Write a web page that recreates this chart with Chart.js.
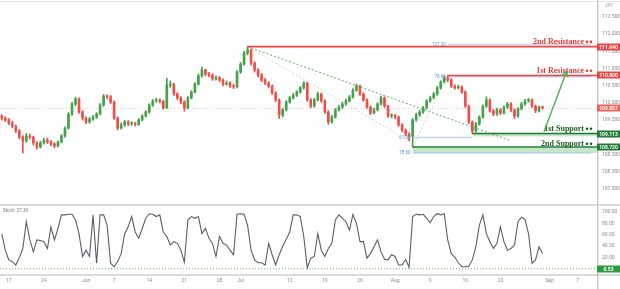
<!DOCTYPE html>
<html>
<head>
<meta charset="utf-8">
<script src="https://cdn.jsdelivr.net/npm/chart.js@4.4.0/dist/chart.umd.min.js"></script>
<style>
  html, body { margin: 0; padding: 0; background: #fff; }
  #wrap { position: relative; width: 620px; height: 289px; overflow: hidden; }
  #price-box { position: absolute; left: 0; top: 0; width: 620px; height: 204px; }
  #stoch-box { position: absolute; left: 0; top: 204px; width: 620px; height: 85px; }
</style>
</head>
<body>
<div id="wrap">
  <div id="price-box"><canvas id="price-canvas"></canvas></div>
  <div id="stoch-box"><canvas id="stoch-canvas"></canvas></div>
</div>
<script>
// USD/JPY, two candles per trading day, 14 May - 31 Aug 2021
const firstDay = '2021-05-14';
const lastDay = '2021-09-09';

const tickDays = ['2021-05-17','2021-05-24','2021-06-01','2021-06-07','2021-06-14','2021-06-21','2021-06-28','2021-07-01',
                  '2021-07-12','2021-07-19','2021-07-26','2021-08-02','2021-08-09','2021-08-16','2021-08-23','2021-09-01','2021-09-07'];
const tickText = ['17','24','Jun','7','14','21','28','Jul','12','19','26','Aug','9','16','23','Sep','7'];

const opens = [
  109.62,109.56,109.51,109.42,109.33,109.19,109.01,108.90,109.04,109.01,
  108.84,108.72,108.84,108.92,108.87,108.81,108.75,108.87,109.04,109.27,
  109.68,109.97,110.12,109.74,109.56,109.45,109.53,109.59,109.68,109.94,
  110.20,110.18,110.03,109.56,109.27,109.36,109.45,109.39,109.40,109.38,
  109.51,109.62,109.74,109.94,110.06,110.09,110.05,109.86,110.52,110.55,
  110.26,110.15,110.03,109.86,110.15,110.32,110.55,110.79,110.96,110.84,
  110.81,110.70,110.73,110.67,110.55,110.58,110.49,110.47,110.90,111.13,
  111.45,111.54,111.16,110.96,110.81,110.67,110.58,110.49,110.29,110.09,
  109.65,109.80,110.03,110.15,110.23,110.32,110.44,110.58,110.09,109.91,
  110.09,110.26,110.06,109.74,109.45,109.59,109.80,109.88,109.97,110.06,
  110.17,110.38,110.49,110.26,110.09,109.88,109.71,109.80,109.97,110.15,
  109.91,109.62,109.63,109.59,109.36,109.21,109.10,109.04,109.51,109.65,
  109.74,109.86,110.06,110.15,110.26,110.44,110.61,110.73,110.67,110.49,
  110.44,110.47,110.32,109.91,109.45,109.19,109.39,109.59,109.91,110.09,
  109.77,109.68,109.80,109.71,109.88,109.97,109.80,109.62,109.83,109.97,
  110.06,110.09,109.91,109.77,109.88
];
const highs = [
  109.66,109.60,109.55,109.47,109.36,109.23,109.05,109.12,109.10,109.04,
  108.88,108.89,108.97,108.98,108.91,108.85,108.90,109.08,109.31,109.72,
  110.02,110.17,110.15,109.78,109.60,109.58,109.64,109.72,109.98,110.25,
  110.24,110.22,110.06,109.60,109.42,109.50,109.49,109.46,109.44,109.55,
  109.66,109.78,109.98,110.10,110.14,110.12,110.08,110.72,110.64,110.58,
  110.30,110.19,110.07,110.19,110.36,110.59,110.84,111.05,110.99,110.89,
  110.85,110.79,110.77,110.70,110.64,110.62,110.55,110.94,111.18,111.50,
  111.64,111.57,111.20,111.00,110.86,110.72,110.62,110.53,110.33,110.12,
  109.85,110.07,110.20,110.28,110.36,110.48,110.62,110.60,110.13,110.14,
  110.32,110.29,110.09,109.78,109.64,109.84,109.93,110.02,110.11,110.22,
  110.42,110.55,110.52,110.30,110.12,109.92,109.85,110.01,110.20,110.18,
  109.94,109.69,109.67,109.62,109.40,109.25,109.14,109.55,109.70,109.79,
  109.90,110.10,110.20,110.31,110.48,110.65,110.78,110.80,110.71,110.53,
  110.52,110.50,110.35,109.94,109.48,109.44,109.63,109.95,110.18,110.12,
  109.81,109.85,109.84,109.92,110.02,110.01,109.83,109.87,110.02,110.11,
  110.14,110.12,109.94,109.92,109.91
];
const lows = [
  109.50,109.46,109.37,109.28,109.14,108.96,108.55,108.86,108.95,108.78,
  108.66,108.69,108.80,108.82,108.76,108.70,108.72,108.84,109.01,109.24,
  109.64,109.92,109.70,109.50,109.40,109.41,109.49,109.55,109.65,109.90,
  110.12,109.98,109.52,109.22,109.24,109.32,109.34,109.35,109.33,109.35,
  109.48,109.59,109.70,109.90,110.02,110.00,109.82,109.84,110.45,110.22,
  110.10,109.98,109.76,109.83,110.12,110.29,110.52,110.75,110.79,110.76,
  110.66,110.66,110.62,110.50,110.52,110.45,110.42,110.44,110.86,111.10,
  111.40,111.10,110.90,110.76,110.62,110.53,110.44,110.25,110.04,109.55,
  109.60,109.77,109.99,110.11,110.19,110.28,110.40,110.05,109.86,109.88,
  110.06,110.02,109.70,109.38,109.41,109.56,109.76,109.84,109.93,110.03,
  110.14,110.34,110.22,110.05,109.84,109.66,109.68,109.77,109.94,109.87,
  109.58,109.57,109.54,109.32,109.16,109.05,108.90,108.72,109.47,109.61,
  109.70,109.82,110.02,110.12,110.22,110.40,110.58,110.62,110.45,110.40,
  110.41,110.28,109.87,109.40,109.11,109.15,109.35,109.56,109.87,109.73,
  109.63,109.64,109.66,109.68,109.84,109.75,109.55,109.59,109.80,109.93,
  110.02,109.87,109.72,109.74,109.82
];
const closes = [
  109.56,109.51,109.42,109.33,109.19,109.01,108.90,109.04,109.01,108.84,
  108.72,108.84,108.92,108.87,108.81,108.75,108.87,109.04,109.27,109.68,
  109.97,110.12,109.74,109.56,109.45,109.53,109.59,109.68,109.94,110.20,
  110.18,110.03,109.56,109.27,109.36,109.45,109.39,109.40,109.38,109.51,
  109.62,109.74,109.94,110.06,110.09,110.05,109.86,110.52,110.55,110.26,
  110.15,110.03,109.86,110.15,110.32,110.55,110.79,110.96,110.84,110.81,
  110.70,110.73,110.67,110.55,110.58,110.49,110.47,110.90,111.13,111.45,
  111.54,111.16,110.96,110.81,110.67,110.58,110.49,110.29,110.09,109.65,
  109.80,110.03,110.15,110.23,110.32,110.44,110.58,110.09,109.91,110.09,
  110.26,110.06,109.74,109.45,109.59,109.80,109.88,109.97,110.06,110.17,
  110.38,110.49,110.26,110.09,109.88,109.71,109.80,109.97,110.15,109.91,
  109.62,109.63,109.59,109.36,109.21,109.10,109.04,109.51,109.65,109.74,
  109.86,110.06,110.15,110.26,110.44,110.61,110.73,110.67,110.49,110.44,
  110.47,110.32,109.91,109.45,109.19,109.39,109.59,109.91,110.09,109.77,
  109.68,109.80,109.71,109.88,109.97,109.80,109.62,109.83,109.97,110.06,
  110.09,109.91,109.77,109.88,109.86
];

// stochastic %K
const stoch = [
  62,33,16,13,7,20,36,83,51,30,
  51,50,48,36,74,51,71,95,95,96,
  96,86,62,22,33,22,95,10,95,95,
  77,10,4,13,27,62,74,92,65,54,
  71,89,97,96,92,95,65,57,42,48,
  45,33,12,86,92,89,92,62,71,54,
  45,22,57,45,42,33,25,96,97,96,
  77,33,16,11,11,7,45,25,7,25,
  40,52,65,95,95,92,57,2,19,22,
  62,33,22,36,45,86,95,89,83,68,
  96,80,48,48,19,27,39,51,30,17,
  16,25,22,7,7,17,3,92,96,95,
  96,89,81,92,97,95,97,51,27,21,
  11,4,4,5,16,39,77,95,62,48,
  36,45,74,48,33,36,42,83,91,87,
  62,10,16,39,27.39
];
const stochLevel = 0.53;

// key levels
const levelNames = ['2nd Resistance', '1st Resistance', '1st Support', '2nd Support'];
const levelPrices = [111.64, 110.80, 109.113, 108.72];
const levelStart = [70, 127, 134, 117];      // candle the level is drawn from
const levelTags = ['111.640', '110.800', '109.113', '108.720'];
const supportBands = [[109.03, 109.10], [108.55, 108.70]];
const lastPrice = 109.857;

// fibonacci drawing
const fibLabels = ['127.20', '78.60', '61.80', '78.60'];
const fibPrices = [111.70, 110.76, 109.00, 108.55];
const fibStart = [127, 127, 117, 117];
const fibEnd = [168, 168, 134, 168];

// [candle, price] pairs
const trendLine = [[70, 111.64], [145, 108.90]];
const fibSwing = [[70, 111.64], [116, 108.90]];
const fibLeg = [[117, 108.72], [127, 110.80]];
const arrow = [[154.4, 109.17], [160.9, 110.93]];

const priceTicks = [107.5, 108, 108.5, 109, 109.5, 110, 110.5, 111, 111.5, 112, 112.5];
const stochTicks = [20, 40, 60, 80, 100];

// ---------------------------------------------------------------

const slots = [];
for (let d = new Date(firstDay + 'T00:00:00Z'); d <= new Date(lastDay + 'T00:00:00Z'); d.setUTCDate(d.getUTCDate() + 1)) {
    const wd = d.getUTCDay();
    if (wd === 0 || wd === 6) continue;
    const iso = d.toISOString().slice(0, 10);
    slots.push(iso + ' 00:00', iso + ' 12:00');
}
const tickIdx = tickDays.map(d => slots.indexOf(d + ' 00:00'));

const UP = '#43a34c';
const DOWN = '#f04e4a';
const RED = '#ee4443';
const DKGREEN = '#1f7a33';
const AXIS_W = 23;

const candleColors = closes.map((c, i) => c >= opens[i] ? UP : DOWN);

function fixAxis(s) {
    s.width = AXIS_W;
    s.paddingTop = 0;
    s.paddingBottom = 0;
}

function line(ctx, x1, y1, x2, y2) {
    ctx.beginPath();
    ctx.moveTo(x1, y1);
    ctx.lineTo(x2, y2);
    ctx.stroke();
}

function tagBox(ctx, a, yy, text, color) {
    ctx.fillStyle = color;
    ctx.fillRect(a.right, Math.round(yy) - 3.5, AXIS_W, 7);
    ctx.fillStyle = '#fff';
    ctx.font = 'bold 5px Roboto';
    ctx.textAlign = 'center';
    ctx.textBaseline = 'middle';
    ctx.fillText(text, a.right + AXIS_W / 2, Math.round(yy) + 0.3);
}

const priceOverlay = {
    id: 'priceOverlay',
    beforeDatasetsDraw(chart) {
        const { ctx, chartArea: a, scales: { y } } = chart;
        ctx.save();
        ctx.strokeStyle = 'rgba(239, 83, 80, 0.35)';
        ctx.lineWidth = 1;
        ctx.setLineDash([1, 2]);
        const yl = Math.round(y.getPixelForValue(lastPrice)) + 0.5;
        line(ctx, a.left, yl, a.right, yl);
        ctx.restore();
    },
    afterDatasetsDraw(chart) {
        const { ctx, chartArea: a, scales: { x, y } } = chart;
        const P = p => [x.getPixelForValue(p[0]), y.getPixelForValue(p[1])];
        ctx.save();

        // support bands
        ctx.fillStyle = 'rgba(129, 199, 132, 0.45)';
        supportBands.forEach((b, i) => {
            const from = x.getPixelForValue(levelStart[i + 2]);
            const y1 = y.getPixelForValue(b[1]), y2 = y.getPixelForValue(b[0]);
            ctx.fillRect(from, y1, a.right - from, y2 - y1);
        });

        // fibonacci levels
        ctx.lineWidth = 1.5;
        ctx.strokeStyle = 'rgba(150, 180, 225, 0.55)';
        ctx.font = '4.5px Roboto';
        ctx.textAlign = 'right';
        ctx.textBaseline = 'middle';
        fibPrices.forEach((p, i) => {
            const x1 = x.getPixelForValue(fibStart[i]);
            const x2 = Math.min(x.getPixelForValue(fibEnd[i]), a.right - 6);
            const yy = y.getPixelForValue(p);
            line(ctx, x1, yy, x2, yy);
            ctx.fillStyle = '#5b8fd6';
            ctx.fillText(fibLabels[i], x1 - 2, yy);
        });

        // diagonals
        ctx.setLineDash([2, 2]);
        ctx.lineWidth = 1;
        ctx.strokeStyle = 'rgba(165, 175, 195, 0.55)';
        line(ctx, ...P(fibSwing[0]), ...P(fibSwing[1]));
        ctx.strokeStyle = 'rgba(140, 170, 215, 0.5)';
        line(ctx, ...P(fibLeg[0]), ...P(fibLeg[1]));
        ctx.strokeStyle = 'rgba(76, 175, 80, 0.75)';
        ctx.lineWidth = 1.2;
        line(ctx, ...P(trendLine[0]), ...P(trendLine[1]));
        ctx.setLineDash([]);

        // key levels
        levelPrices.forEach((p, i) => {
            const res = i < 2;
            const x1 = x.getPixelForValue(levelStart[i]);
            const yy = y.getPixelForValue(p);
            ctx.strokeStyle = res ? RED : DKGREEN;
            ctx.lineWidth = 1.6;
            line(ctx, x1, yy, a.right, yy);

            // label with two dots
            const color = res ? '#e53935' : '#1b5e20';
            const dotsW = 9;
            const xr = a.right - 4;
            const ty = yy - (i === 3 ? 3.5 : 5);
            ctx.fillStyle = color;
            ctx.font = 'bold 8px "Liberation Serif"';
            ctx.textAlign = 'right';
            ctx.textBaseline = 'middle';
            ctx.fillText(levelNames[i], xr - dotsW, ty);
            [xr - 6, xr - 2].forEach(dx => {
                ctx.beginPath();
                ctx.arc(dx, ty + 0.3, 1.3, 0, Math.PI * 2);
                ctx.fill();
            });
        });

        // arrow
        const [ax1, ay1] = P(arrow[0]);
        const [ax2, ay2] = P(arrow[1]);
        ctx.strokeStyle = '#4caf50';
        ctx.lineWidth = 1.4;
        line(ctx, ax1, ay1, ax2, ay2);
        const ang = Math.atan2(ay2 - ay1, ax2 - ax1);
        [0.5, -0.5].forEach(o => line(ctx, ax2, ay2, ax2 - 6 * Math.cos(ang + o), ay2 - 6 * Math.sin(ang + o)));

        ctx.restore();
    },
    afterDraw(chart) {
        const { ctx, chartArea: a, scales: { y } } = chart;
        ctx.save();
        ctx.strokeStyle = '#e2e2e2';
        ctx.lineWidth = 1;
        line(ctx, 0, 1.5, chart.width, 1.5);
        ctx.strokeStyle = '#c9c9c9';
        ctx.lineWidth = 1.5;
        line(ctx, a.right + 0.75, 0, a.right + 0.75, chart.height);

        ctx.fillStyle = '#9a9a9a';
        ctx.font = '4.5px Roboto';
        ctx.textAlign = 'left';
        ctx.textBaseline = 'middle';
        ctx.fillText('JPY', a.right + 8, 6);

        levelPrices.forEach((p, i) => tagBox(ctx, a, y.getPixelForValue(p), levelTags[i], i < 2 ? RED : DKGREEN));
        tagBox(ctx, a, y.getPixelForValue(lastPrice), lastPrice.toFixed(3), '#f2615a');
        ctx.restore();
    }
};

const stochOverlay = {
    id: 'stochOverlay',
    afterDraw(chart) {
        const { ctx, chartArea: a, scales: { y } } = chart;
        ctx.save();
        ctx.strokeStyle = '#d9d9d9';
        ctx.lineWidth = 2;
        line(ctx, 0, 1, chart.width, 1);
        ctx.lineWidth = 1.5;
        ctx.strokeStyle = '#cfcfcf';
        line(ctx, 0, a.bottom, chart.width, a.bottom);
        ctx.strokeStyle = '#c9c9c9';
        line(ctx, a.right + 0.75, 0, a.right + 0.75, chart.height);

        const yl = y.getPixelForValue(stochLevel);
        ctx.strokeStyle = '#5cb85c';
        ctx.lineWidth = 1;
        ctx.setLineDash([1, 2]);
        line(ctx, a.left, yl, a.right, yl);
        ctx.setLineDash([]);
        tagBox(ctx, a, yl, stochLevel.toFixed(2), '#2e9a3e');

        ctx.fillStyle = '#777';
        ctx.font = '4.5px Roboto';
        ctx.textAlign = 'left';
        ctx.textBaseline = 'middle';
        ctx.fillText('Stoch  ' + stoch[stoch.length - 1].toFixed(2), 3, a.top + 6);
        ctx.restore();
    }
};

new Chart(document.getElementById('price-canvas'), {
    type: 'bar',
    plugins: [priceOverlay],
    data: {
        labels: slots,
        datasets: [{
            label: 'Bodies',
            data: opens.map((o, i) => [o, closes[i]]),
            backgroundColor: candleColors,
            barThickness: 2,
            minBarLength: 1,
            grouped: false,
            order: 1
        },
        {
            label: 'Wicks',
            data: lows.map((l, i) => [l, highs[i]]),
            backgroundColor: candleColors,
            barThickness: 1,
            grouped: false,
            order: 2
        }]
    },
    options: {
        responsive: true,
        maintainAspectRatio: false,
        devicePixelRatio: 1,
        animation: false,
        layout: { padding: 0 },
        plugins: { legend: { display: false }, tooltip: { enabled: false } },
        scales: {
            x: { display: false, offset: true, grid: { display: false } },
            y: {
                position: 'right',
                min: 107.064,
                max: 112.994,
                afterBuildTicks: axis => axis.ticks = priceTicks.map(v => ({ value: v })),
                afterFit: fixAxis,
                grid: { display: false, drawTicks: false },
                border: { display: false },
                ticks: {
                    padding: 5,
                    color: '#8c8c8c',
                    font: { size: 5, family: 'Roboto' },
                    callback: v => [...levelPrices, lastPrice].some(p => Math.abs(p - v) < 0.12) ? '' : v.toFixed(3)
                }
            }
        }
    }
});

new Chart(document.getElementById('stoch-canvas'), {
    type: 'line',
    plugins: [stochOverlay],
    data: {
        labels: slots,
        datasets: [{
            label: 'Stoch',
            data: stoch,
            borderColor: '#5d5d68',
            borderWidth: 1.1,
            pointRadius: 0,
            tension: 0
        }]
    },
    options: {
        responsive: true,
        maintainAspectRatio: false,
        devicePixelRatio: 1,
        animation: false,
        layout: { padding: { top: 1 } },
        plugins: { legend: { display: false }, tooltip: { enabled: false } },
        scales: {
            x: {
                offset: true,
                grid: { display: false, drawTicks: false },
                border: { display: false },
                afterBuildTicks: axis => axis.ticks = tickIdx.map(v => ({ value: v })),
                afterFit: s => { s.height = 14; s.paddingLeft = 0; s.paddingRight = 0; },
                ticks: {
                    autoSkip: false,
                    maxRotation: 0,
                    padding: 3,
                    color: '#8c8c8c',
                    font: { size: 5, family: 'Roboto' },
                    callback: v => tickText[tickIdx.indexOf(v)]
                }
            },
            y: {
                position: 'right',
                min: -10.5,
                max: 112.3,
                afterBuildTicks: axis => axis.ticks = stochTicks.map(v => ({ value: v })),
                afterFit: fixAxis,
                grid: { display: false, drawTicks: false },
                border: { display: false },
                ticks: {
                    padding: 5,
                    color: '#8c8c8c',
                    font: { size: 5, family: 'Roboto' },
                    callback: v => v.toFixed(2)
                }
            }
        }
    }
});
</script>
</body>
</html>
